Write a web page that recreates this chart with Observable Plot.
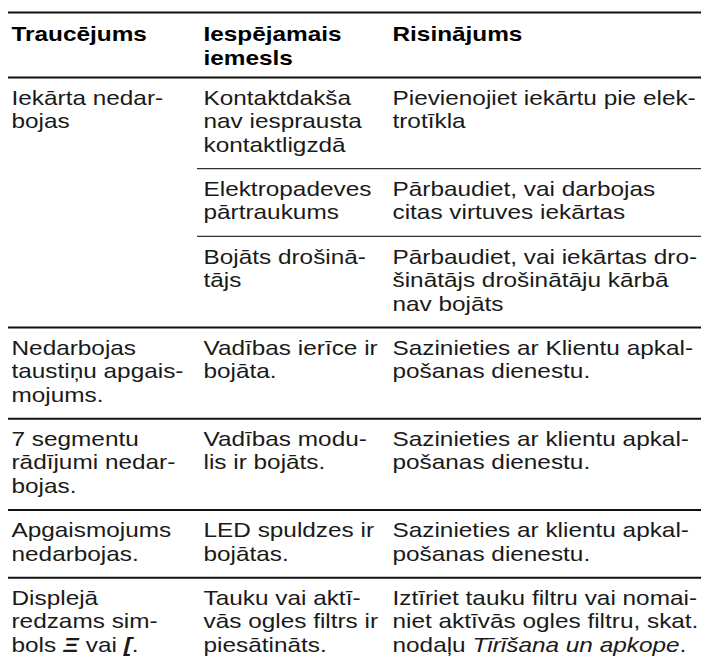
<!DOCTYPE html>
<html><head><meta charset="utf-8">
<script src="https://cdn.jsdelivr.net/npm/d3@7"></script>
<script src="https://cdn.jsdelivr.net/npm/@observablehq/plot@0.6"></script>
<style>body{margin:0;background:#fff}</style>
</head><body><div id="chart"></div>
<script>
// ---- data ----
const headers = ["Traucējums", "Iespējamais\niemesls", "Risinājums"];
const problems = [
  "Iekārta nedar-\nbojas",
  "Nedarbojas\ntaustiņu apgais-\nmojums.",
  "7 segmentu\nrādījumi nedar-\nbojas.",
  "Apgaismojums\nnedarbojas.",
  "Displejā\nredzams sim-\nbols #Ξ# vai #[#."
];
const causes = [
  ["Kontaktdakša\nnav iesprausta\nkontaktligzdā", "Elektropadeves\npārtraukums", "Bojāts drošinā-\ntājs"],
  ["Vadības ierīce ir\nbojāta."],
  ["Vadības modu-\nlis ir bojāts."],
  ["LED spuldzes ir\nbojātas."],
  ["Tauku vai aktī-\nvās ogles filtrs ir\npiesātināts."]
];
const remedies = [
  ["Pievienojiet iekārtu pie elek-\ntrotīkla", "Pārbaudiet, vai darbojas\ncitas virtuves iekārtas", "Pārbaudiet, vai iekārtas dro-\nšinātājs drošinātāju kārbā\nnav bojāts"],
  ["Sazinieties ar Klientu apkal-\npošanas dienestu."],
  ["Sazinieties ar klientu apkal-\npošanas dienestu."],
  ["Sazinieties ar klientu apkal-\npošanas dienestu."],
  ["Iztīriet tauku filtru vai nomai-\nniet aktīvās ogles filtru, skat.\nnodaļu *Tīrīšana un apkope*."]
];

// ---- layout ----
const W = 701, H = 665;
const FS = 21, LH = 23.5, SX = 1.16;
const colX = [11, 203, 392];
const ruleX0 = 8, subX0 = 197;
const topRule = 12, headRule = 77;
const capOffset = 10.5, rowPad = 20.7;
const nLines = s => s.split("\n").length;

const heads = headers.map((h, i) => ({x: colX[i], y: topRule + 12, text: h}));
const cells = [];
const majorRules = [{y: topRule}, {y: headRule}];
const minorRules = [];
let y = headRule;
problems.forEach((p, r) => {
  cells.push({x: colX[0], y: y + capOffset, text: p});
  causes[r].forEach((c, k) => {
    const n = Math.max(nLines(c), nLines(remedies[r][k]), causes[r].length === 1 ? nLines(p) : 0);
    cells.push({x: colX[1], y: y + capOffset, text: c});
    cells.push({x: colX[2], y: y + capOffset, text: remedies[r][k]});
    y += n * LH + rowPad;
    if (k < causes[r].length - 1) minorRules.push({y});
  });
  if (r < problems.length - 1) majorRules.push({y});
});

const chart = Plot.plot({
  width: W, height: H, margin: 0,
  x: {type: "identity", axis: null}, y: {type: "identity", axis: null},
  style: {fontFamily: "'Liberation Sans', Arial, Helvetica, sans-serif", background: "#fff"},
  marks: [
    Plot.ruleY(majorRules, {y: "y", x1: ruleX0, x2: W, stroke: "#111", strokeWidth: 2}),
    Plot.ruleY(minorRules, {y: "y", x1: subX0, x2: W, stroke: "#333", strokeWidth: 1.3}),
    Plot.text(heads, {x: "x", y: "y", text: "text", textAnchor: "start", lineAnchor: "top",
      fontSize: FS, fontWeight: "bold", lineHeight: LH / FS, fill: "#000"}),
    Plot.text(cells, {x: "x", y: "y", text: "text", textAnchor: "start", lineAnchor: "top",
      fontSize: FS, lineHeight: LH / FS, fill: "#1a1a1a"})
  ]
});

// inline styling: *italic*, #symbol#
d3.select(chart).selectAll("tspan, text").each(function() {
  const el = this;
  if (el.children && el.children.length) return;
  const t = el.textContent;
  if (!/[*#]/.test(t)) return;
  el.textContent = "";
  const parts = t.split(/([*#][^*#]+[*#])/);
  for (const part of parts) {
    if (!part) continue;
    const ts = d3.select(el).append("tspan");
    if (part[0] === "*") ts.attr("font-style", "italic").text(part.slice(1, -1));
    else if (part[0] === "#") ts.attr("font-style", "italic").attr("font-weight", "bold").text(part.slice(1, -1));
    else ts.text(part);
  }
});

// the reference typeface is wider than Liberation Sans: stretch glyphs horizontally
d3.select(chart).selectAll("text").each(function() {
  const x = +(this.getAttribute("x") || 0);
  const tr = this.getAttribute("transform") || "";
  this.setAttribute("transform", `${tr} translate(${x},0) scale(${SX},1) translate(${-x},0)`);
});

document.getElementById("chart").append(chart);
</script>
</body></html>
